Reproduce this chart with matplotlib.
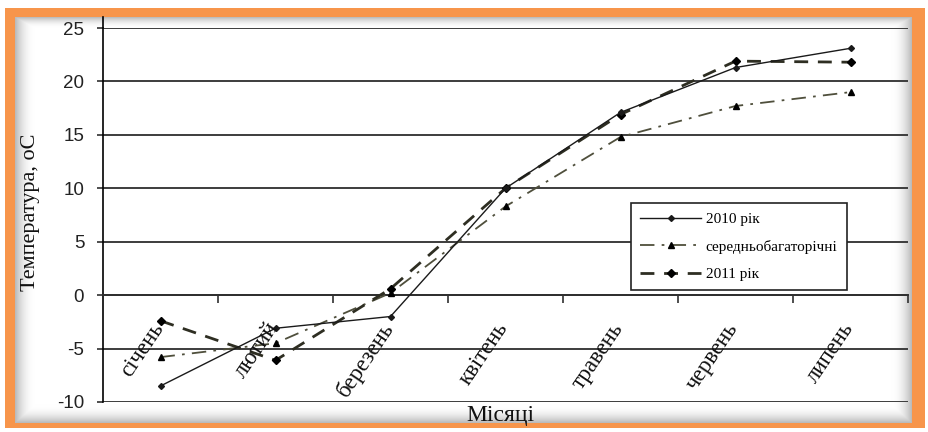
import numpy as np
import matplotlib
matplotlib.use("Agg")
import matplotlib.pyplot as plt
from matplotlib.patches import Rectangle

months = ["січень", "лютий", "березень", "квітень", "травень", "червень", "липень"]
t_2010 = [-8.5, -3.1, -2.0, 10.0, 17.1, 21.3, 23.1]
t_norm = [-5.8, -4.5, 0.2, 8.3, 14.8, 17.7, 19.0]
t_2011 = [-2.4, -6.1, 0.6, 10.0, 16.9, 21.9, 21.8]
series_names = ["2010 рік", "середньобагаторічні", "2011 рік"]
y_ticks = [-10, -5, 0, 5, 10, 15, 20, 25]

plt.rcParams["axes.unicode_minus"] = False

W, H = 929, 432
fig = plt.figure(figsize=(W / 100, H / 100), dpi=100)

# Frame: orange border with a soft inner shadow
bg = fig.add_axes([0, 0, 1, 1])
bg.set_xlim(0, W)
bg.set_ylim(H, 0)
bg.axis("off")
bg.add_patch(Rectangle((5, 8), 920, 420, facecolor="#F7954B", edgecolor="none"))
x0, y0, x1, y1 = 15, 17, 912, 423
xs = np.arange(x0, x1) + 0.5
ys = np.arange(y0, y1) + 0.5
X, Y = np.meshgrid(xs, ys)
d = np.minimum.reduce([(X - x0) * 0.9, (x1 - X) * 0.9, (Y - y0) * 1.6, (y1 - Y)])
shade = np.clip(d / 18.0, 0, 1)
val = 0.72 + 0.28 * (1 - (1 - shade) ** 2)
img = np.dstack([val, val, val])
bg.imshow(img, extent=(x0, x1, y1, y0), interpolation="bilinear", zorder=1)

# Main plot area
left, right, top, bottom = 103, 908, 28, 402
# value axis continues a little above the top gridline
bg.plot([left, left], [17, top], color="black", linewidth=1.2, zorder=2)

ax = fig.add_axes([left / W, (H - bottom) / H, (right - left) / W, (bottom - top) / H])
ax.set_facecolor("none")
ax.set_xlim(-0.5, 6.5)
ax.set_ylim(-10, 25)

for s in ("top", "right"):
    ax.spines[s].set_visible(False)
ax.spines["left"].set_color("black")
ax.spines["left"].set_linewidth(1.2)
ax.spines["bottom"].set_position(("data", 0))
ax.spines["bottom"].set_color("#303030")
ax.spines["bottom"].set_linewidth(1.4)

ax.set_yticks(y_ticks)
ax.yaxis.grid(True, color="#3c3c3c", linewidth=1.4)
ax.set_axisbelow(True)
ax.tick_params(axis="y", direction="out", length=4.5, width=1.2, color="#303030",
               pad=9, labelsize=13.5, labelcolor="#222222")
for lbl in ax.get_yticklabels():
    lbl.set_family("Liberation Sans")

ax.set_xticks(np.arange(0.5, 7.0, 1.0))
ax.set_xticklabels([])
ax.tick_params(axis="x", direction="out", length=6, width=1.2, color="#303030")

xi = np.arange(len(months))
ax.plot(xi, t_2010, color="#1a1a1a", linewidth=1.0, marker="D", markersize=3,
        markerfacecolor="#1a1a1a", label=series_names[0], zorder=4)
ax.plot(xi, t_norm, color="#4f4f3c", linewidth=1.3, linestyle=(0, (8, 4, 1.5, 4)),
        marker="^", markersize=5, markerfacecolor="black", markeredgecolor="black",
        label=series_names[1], zorder=3)
ax.plot(xi, t_2011, color="#2e2e22", linewidth=2.0, linestyle=(0, (5, 3.5)),
        marker="D", markersize=4, markerfacecolor="black", markeredgecolor="black",
        label=series_names[2], zorder=3)

for i, m in enumerate(months):
    ax.annotate(m, xy=(i, 0), xytext=(-1, -21), textcoords="offset points",
                rotation=56, rotation_mode="anchor", ha="right", va="center",
                fontsize=16.5, family="Liberation Serif", color="#111111", zorder=5)

leg = ax.legend(loc="upper left", bbox_to_anchor=((631 - left) / (right - left), (bottom - 203) / (bottom - top)),
                frameon=True, fancybox=False, edgecolor="#222222", framealpha=1,
                prop={"family": "Liberation Serif", "size": 11}, handlelength=4.0,
                labelspacing=0.9, borderpad=0.6, handletextpad=0.3, borderaxespad=0)
leg.get_frame().set_linewidth(1.2)

fig.text(31 / W, 1 - 212 / H, "Температура, оС", rotation=90, ha="center", va="center",
         fontsize=16, family="Liberation Serif", color="#111111")
fig.text(500 / W, 1 - 415 / H, "Місяці", ha="center", va="center",
         fontsize=17, family="Liberation Serif", color="#111111")

fig.savefig("out.png", dpi=100)
